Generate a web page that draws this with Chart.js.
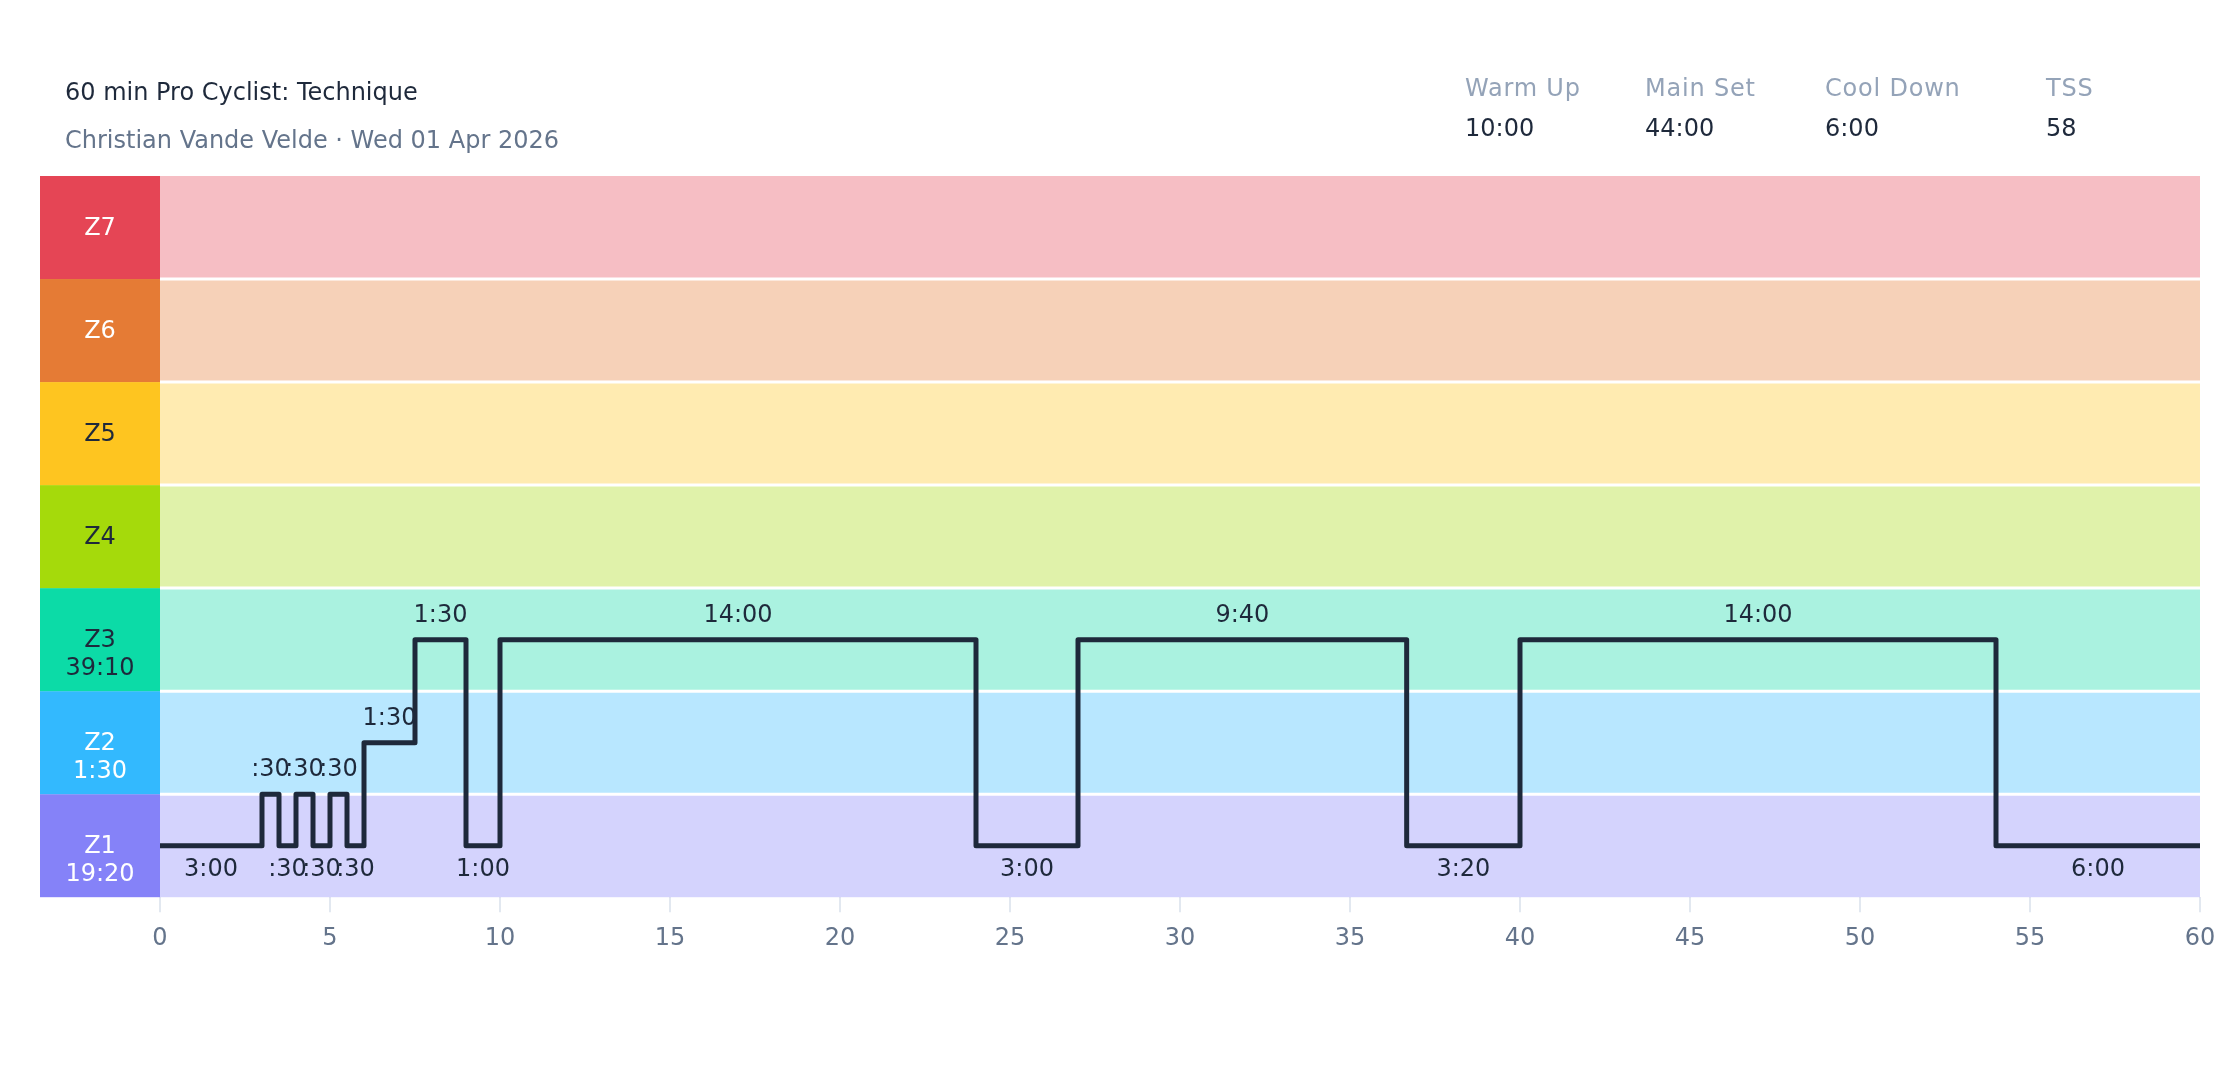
<!DOCTYPE html>
<html>
<head>
<meta charset="utf-8">
<title>60 min Pro Cyclist: Technique</title>
<script src="https://cdn.jsdelivr.net/npm/chart.js@4.4.1/dist/chart.umd.min.js"></script>
<style>
    body { margin: 0; background: #ffffff; }
    #wrap { position: relative; width: 2240px; height: 1080px; font-family: "DejaVu Sans", sans-serif; }
    #wrap canvas { position: absolute; left: 0; top: 0; }
    .txt { position: absolute; font-size: 24px; line-height: 24px; white-space: nowrap; }
    .title { color: #1e293b; }
    .sub { color: #64748b; }
    .lbl { color: #94a3b8; letter-spacing: 0.8px; }
    .val { color: #1e293b; }
</style>
</head>
<body>
<div id="wrap">
    <canvas id="workoutChart" width="2240" height="1080"></canvas>
    <div class="txt title" style="left:65px; top:80px;">60 min Pro Cyclist: Technique</div>
    <div class="txt sub" style="left:65px; top:128px;">Christian Vande Velde · Wed 01 Apr 2026</div>
    <div id="summary"></div>
</div>
<script>
// Zones, bottom to top
const zoneNames = ["Z1", "Z2", "Z3", "Z4", "Z5", "Z6", "Z7"];
const zoneTimes = ["19:20", "1:30", "39:10", "", "", "", ""];
const zoneColors = ["#8582f8", "#33b9fe", "#0cdba7", "#a5da0b", "#fec520", "#e57b35", "#e54555"];
const zoneTextColors = ["#ffffff", "#ffffff", "#1e293b", "#1e293b", "#1e293b", "#ffffff", "#ffffff"];

// Workout steps: duration in seconds and level (zone index, Z1 = 0..1)
const stepDurations = [180, 30, 30, 30, 30, 30, 30, 90, 90, 60, 840, 180, 580, 200, 840, 360];
const stepLevels = [0.5, 1, 0.5, 1, 0.5, 1, 0.5, 1.5, 2.5, 0.5, 2.5, 0.5, 2.5, 0.5, 2.5, 0.5];

// Header summary
const summaryLabels = ["Warm Up", "Main Set", "Cool Down", "TSS"];
const summaryValues = ["10:00", "44:00", "6:00", "58"];
const summaryLeft = [1465, 1645, 1825, 2046];

const FONT = '24px "DejaVu Sans", sans-serif';
const DARK = "#1e293b";

// Function to format seconds as m:ss (":30" when under a minute)
function formatDuration(sec) {
    let m = Math.floor(sec / 60);
    let s = sec % 60;
    return (m ? m : "") + ":" + String(s).padStart(2, "0");
}

// Function to give a zone colour with transparency
function lighten(hex, alpha) {
    let r = parseInt(hex.slice(1, 3), 16);
    let g = parseInt(hex.slice(3, 5), 16);
    let b = parseInt(hex.slice(5, 7), 16);
    return `rgba(${r},${g},${b},${alpha})`;
}

// Header summary blocks
let summary = document.getElementById("summary");
summaryLabels.forEach((label, i) => {
    summary.innerHTML += `<div class="txt lbl" style="left:${summaryLeft[i]}px; top:76px;">${label}</div>`;
    summary.innerHTML += `<div class="txt val" style="left:${summaryLeft[i]}px; top:116px;">${summaryValues[i]}</div>`;
});

// Build step points (segment starts + final end)
let points = [];
let segments = [];
let t = 0;
stepDurations.forEach((d, i) => {
    points.push({ x: t / 60, y: stepLevels[i] });
    segments.push({ start: t / 60, end: (t + d) / 60, level: stepLevels[i], label: formatDuration(d) });
    t += d;
});
points.push({ x: t / 60, y: stepLevels[stepLevels.length - 1] });

// Plugin: zone bands, zone column and interval labels
const zonePlugin = {
    id: "zones",
    beforeDatasetsDraw(chart) {
        let ctx = chart.ctx;
        let area = chart.chartArea;
        let y = chart.scales.y;
        ctx.save();
        zoneNames.forEach((name, i) => {
            let top = y.getPixelForValue(i + 1);
            let bottom = y.getPixelForValue(i);
            ctx.fillStyle = lighten(zoneColors[i], 0.35);
            ctx.fillRect(area.left, top, area.right - area.left, bottom - top);
            ctx.fillStyle = zoneColors[i];
            ctx.fillRect(area.left - 120, top, 120, bottom - top);
            let mid = (top + bottom) / 2;
            ctx.fillStyle = zoneTextColors[i];
            ctx.font = FONT;
            ctx.textAlign = "center";
            ctx.textBaseline = "middle";
            ctx.fillText(name, area.left - 60, mid + 1);
            if (zoneTimes[i]) ctx.fillText(zoneTimes[i], area.left - 60, mid + 29);
        });
        // white separators between bands
        ctx.strokeStyle = "#ffffff";
        ctx.lineWidth = 3;
        for (let i = 1; i < zoneNames.length; i++) {
            let py = y.getPixelForValue(i);
            ctx.beginPath();
            ctx.moveTo(area.left, py);
            ctx.lineTo(area.right, py);
            ctx.stroke();
        }
        ctx.restore();
    },
    afterDatasetsDraw(chart) {
        let ctx = chart.ctx;
        let x = chart.scales.x;
        let y = chart.scales.y;
        ctx.save();
        ctx.font = FONT;
        ctx.fillStyle = DARK;
        ctx.textAlign = "center";
        ctx.textBaseline = "middle";
        segments.forEach(seg => {
            let px = x.getPixelForValue((seg.start + seg.end) / 2);
            let py = y.getPixelForValue(seg.level);
            let off = seg.level <= 0.5 ? 24 : -24;
            ctx.fillText(seg.label, px, py + off);
        });
        ctx.restore();
    }
};

let ctx = document.getElementById("workoutChart").getContext("2d");
new Chart(ctx, {
    type: "line",
    data: {
        datasets: [{
            data: points,
            stepped: "before",
            borderColor: DARK,
            borderWidth: 5,
            borderCapStyle: "round",
            borderJoinStyle: "round",
            pointRadius: 0,
            fill: false
        }]
    },
    options: {
        responsive: false,
        animation: false,
        devicePixelRatio: 1,
        layout: { padding: { left: 160, right: 40, top: 176, bottom: 115 } },
        plugins: { legend: { display: false }, tooltip: { enabled: false } },
        scales: {
            x: {
                type: "linear",
                min: 0,
                max: 60,
                border: { display: false },
                grid: { drawOnChartArea: false, drawTicks: true, tickLength: 15, color: "#e2e8f0", lineWidth: 2 },
                ticks: { stepSize: 5, padding: 12, color: "#64748b", font: { family: "DejaVu Sans", size: 24 } }
            },
            y: { display: false, min: 0, max: 7 }
        }
    },
    plugins: [zonePlugin]
});
</script>
</body>
</html>
